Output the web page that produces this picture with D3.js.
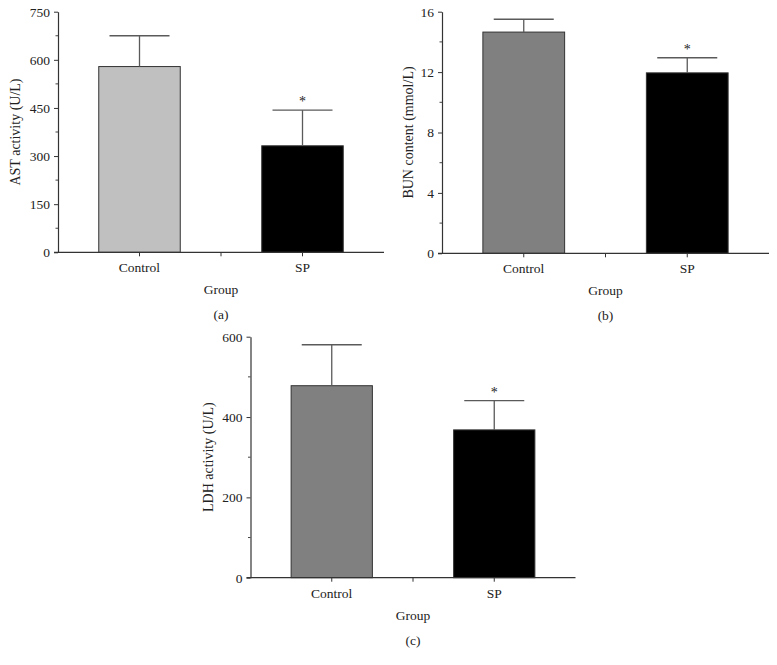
<!DOCTYPE html>
<html lang="en">
<head>
<meta charset="UTF-8">
<title>AST, BUN and LDH by group</title>
<script src="https://cdn.jsdelivr.net/npm/d3@7"></script>
<style>
    body { margin: 0; padding: 0; background: #fff; overflow: hidden; }
    svg { display: block; }
    text { font-family: "Liberation Serif", "DejaVu Serif", serif; fill: #222; }
</style>
</head>
<body>
<svg id="fig" width="777" height="665"></svg>
<script>
// data
var groups = ["Control", "SP"];

var astMean = [579, 332];
var astSD = [96, 111];
var astTicks = [0, 150, 300, 450, 600, 750];

var bunMean = [14.65, 11.95];
var bunSD = [0.85, 1.0];
var bunTicks = [0, 4, 8, 12, 16];

var ldhMean = [478, 368];
var ldhSD = [102, 73];
var ldhTicks = [0, 200, 400, 600];

var marks = ["", "*"];

var svg = d3.select("#fig");
var fs = 13.5;

function drawPanel(p) {
    var x = d3.scaleBand().domain(groups).range([p.x0, p.x1]).padding(0);
    var y = d3.scaleLinear().domain([0, p.max]).range([p.yBottom, p.yTop]);
    var bw = x.bandwidth();
    var g = svg.append("g");

    // minor ticks half-way between the major ones
    var step = p.ticks[1] - p.ticks[0];
    var minor = d3.range(step / 2, p.max, step);
    g.selectAll(".minor").data(minor).enter().append("line")
        .attr("x1", p.x0 - 2.5).attr("x2", p.x0)
        .attr("y1", d => y(d)).attr("y2", d => y(d))
        .attr("stroke", "#444").attr("stroke-width", 1);

    // bars
    g.selectAll(".bar").data(groups).enter().append("rect")
        .attr("x", d => x(d) + bw / 4)
        .attr("width", bw / 2)
        .attr("y", (d, i) => y(p.mean[i]))
        .attr("height", (d, i) => y(0) - y(p.mean[i]))
        .attr("fill", (d, i) => p.colors[i])
        .attr("stroke", "#333").attr("stroke-width", 1);

    // error bars (upper only)
    groups.forEach(function (d, i) {
        var cx = x(d) + bw / 2;
        var top = y(p.mean[i] + p.sd[i]);
        g.append("line").attr("x1", cx).attr("x2", cx)
            .attr("y1", y(p.mean[i])).attr("y2", top)
            .attr("stroke", "#5a5a5a").attr("stroke-width", 1.3);
        g.append("line").attr("x1", cx - 30).attr("x2", cx + 30)
            .attr("y1", top).attr("y2", top)
            .attr("stroke", "#5a5a5a").attr("stroke-width", 1.3);
        if (marks[i]) {
            g.append("text").attr("x", cx).attr("y", top - 4)
                .attr("text-anchor", "middle").attr("font-size", 14)
                .attr("fill", "#444").text(marks[i]);
        }
    });

    // y axis
    var yAxis = g.append("g").attr("transform", "translate(" + p.x0 + ",0)")
        .call(d3.axisLeft(y).tickValues(p.ticks).tickSize(4).tickPadding(4).tickSizeOuter(0));
    yAxis.select(".domain").attr("stroke", "#333").attr("stroke-width", 1.2);
    yAxis.selectAll(".tick line").attr("stroke", "#333");
    yAxis.selectAll("text").attr("font-size", fs).attr("fill", "#222")
        .style("font-family", "Liberation Serif");

    // x axis with a tick between the groups
    var xAxis = g.append("g").attr("transform", "translate(0," + p.yBottom + ")");
    xAxis.append("line").attr("x1", p.x0 - 4).attr("x2", p.x1)
        .attr("stroke", "#333").attr("stroke-width", 1.2);
    var tickPos = [x(groups[0]) + bw / 2, x(groups[1]), x(groups[1]) + bw / 2];
    xAxis.selectAll(".xt").data(tickPos).enter().append("line")
        .attr("x1", d => d).attr("x2", d => d)
        .attr("y1", 0).attr("y2", 4)
        .attr("stroke", "#333");
    xAxis.selectAll(".xl").data(groups).enter().append("text")
        .attr("x", d => x(d) + bw / 2).attr("y", 20)
        .attr("text-anchor", "middle").attr("font-size", fs).text(d => d);

    g.append("text").attr("x", x(groups[1])).attr("y", p.yBottom + 42)
        .attr("text-anchor", "middle").attr("font-size", fs).text("Group");
    g.append("text").attr("x", x(groups[1])).attr("y", p.yBottom + 67)
        .attr("text-anchor", "middle").attr("font-size", fs).text(p.tag);

    g.append("text")
        .attr("transform", "translate(" + p.labelX + "," + ((p.yTop + p.yBottom) / 2) + ") rotate(-90)")
        .attr("text-anchor", "middle").attr("dy", "0.35em").attr("font-size", 14)
        .text(p.label);
}

drawPanel({
    x0: 58, x1: 384, yTop: 11.7, yBottom: 252.3, max: 750,
    ticks: astTicks, mean: astMean, sd: astSD,
    colors: ["#c0c0c0", "#000"], label: "AST activity (U/L)", labelX: 15, tag: "(a)"
});
drawPanel({
    x0: 442, x1: 769, yTop: 11.7, yBottom: 253.3, max: 16,
    ticks: bunTicks, mean: bunMean, sd: bunSD,
    colors: ["#808080", "#000"], label: "BUN content (mmol/L)", labelX: 408, tag: "(b)"
});
drawPanel({
    x0: 250.5, x1: 575.5, yTop: 336.7, yBottom: 577.7, max: 600,
    ticks: ldhTicks, mean: ldhMean, sd: ldhSD,
    colors: ["#808080", "#000"], label: "LDH activity (U/L)", labelX: 208, tag: "(c)"
});
</script>
</body>
</html>
